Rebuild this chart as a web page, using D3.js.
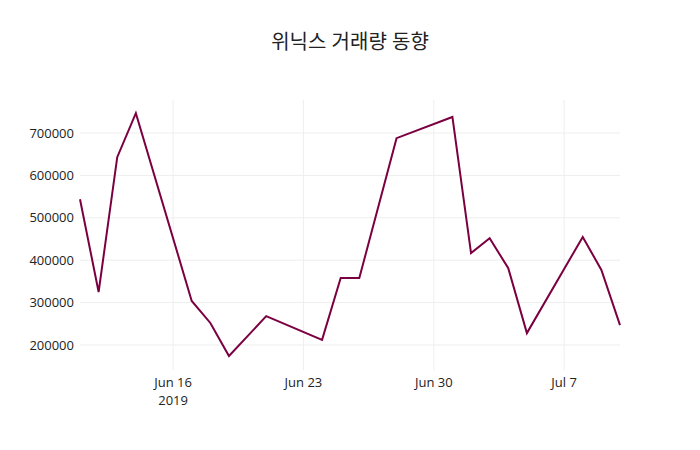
<!DOCTYPE html>
<html>
<head>
<meta charset="utf-8">
<script src="https://cdn.jsdelivr.net/npm/d3@7"></script>
<style>
  body { margin: 0; background: #fff; }
  text { font-family: "Open Sans", "Noto Sans CJK KR", sans-serif; }
</style>
</head>
<body>
<svg id="chart"></svg>
<script>
const dates = ['2019-06-11','2019-06-12','2019-06-13','2019-06-14','2019-06-17','2019-06-18',
  '2019-06-19','2019-06-21','2019-06-24','2019-06-25','2019-06-26','2019-06-28','2019-07-01',
  '2019-07-02','2019-07-03','2019-07-04','2019-07-05','2019-07-08','2019-07-09','2019-07-10'];
const volumes = [544000,325000,643000,747000,304000,252000,174000,268000,212000,358000,358000,
  688000,738000,417000,452000,381000,228000,455000,377000,247000];
const yTicks = [200000,300000,400000,500000,600000,700000];
const xTicks = ['2019-06-16','2019-06-23','2019-06-30','2019-07-07'];
const title = '위닉스 거래량 동향';

class VolumeChart {
  constructor(_config) {
    this.config = {
      parentElement: _config.parentElement,
      containerWidth: 700,
      containerHeight: 450,
      margin: {top: 100, right: 80, bottom: 80, left: 80}
    };
    this.initVis();
  }

  initVis() {
    let vis = this;
    const parse = d3.utcParse('%Y-%m-%d');
    vis.data = dates.map((d, i) => ({date: parse(d), value: volumes[i]}));
    vis.ticks = xTicks.map(parse);

    vis.svg = d3.select(vis.config.parentElement)
      .attr('width', vis.config.containerWidth)
      .attr('height', vis.config.containerHeight);

    vis.width = vis.config.containerWidth - vis.config.margin.left - vis.config.margin.right;
    vis.height = vis.config.containerHeight - vis.config.margin.top - vis.config.margin.bottom;

    vis.chart = vis.svg.append('g')
      .attr('transform', `translate(${vis.config.margin.left},${vis.config.margin.top})`);

    vis.x = d3.scaleUtc().domain(d3.extent(vis.data, d => d.date)).range([0, vis.width]);
    vis.y = d3.scaleLinear().domain([141000, 778000]).range([vis.height, 0]);

    vis.renderVis();
  }

  renderVis() {
    let vis = this;
    const fmt = d3.utcFormat('%b %-d');

    vis.chart.append('g').selectAll('line').data(vis.ticks).join('line')
      .attr('x1', d => vis.x(d)).attr('x2', d => vis.x(d))
      .attr('y1', 0).attr('y2', vis.height)
      .attr('stroke', '#eee');
    vis.chart.append('g').selectAll('line').data(yTicks).join('line')
      .attr('x1', 0).attr('x2', vis.width)
      .attr('y1', d => vis.y(d)).attr('y2', d => vis.y(d))
      .attr('stroke', '#eee');

    vis.chart.append('g').selectAll('text').data(yTicks).join('text')
      .attr('x', -6).attr('y', d => vis.y(d)).attr('dy', '0.35em')
      .attr('text-anchor', 'end').attr('font-size', 13).attr('fill', '#222')
      .text(d => d);

    const xl = vis.chart.append('g').selectAll('text').data(vis.ticks).join('text')
      .attr('x', d => vis.x(d)).attr('y', vis.height + 17)
      .attr('text-anchor', 'middle').attr('font-size', 13).attr('fill', '#222');
    xl.append('tspan').text(d => fmt(d));
    xl.filter((d, i) => i === 0).append('tspan')
      .attr('x', d => vis.x(d)).attr('dy', 18).text('2019');

    const line = d3.line().x(d => vis.x(d.date)).y(d => vis.y(d.value));
    vis.chart.append('path').datum(vis.data)
      .attr('d', line).attr('fill', 'none')
      .attr('stroke', '#7b0041').attr('stroke-width', 2);

    vis.svg.append('text')
      .attr('x', vis.config.containerWidth / 2).attr('y', 49)
      .attr('text-anchor', 'middle').attr('font-size', 20).attr('fill', '#222')
      .text(title);
  }
}

new VolumeChart({parentElement: '#chart'});
</script>
</body>
</html>
